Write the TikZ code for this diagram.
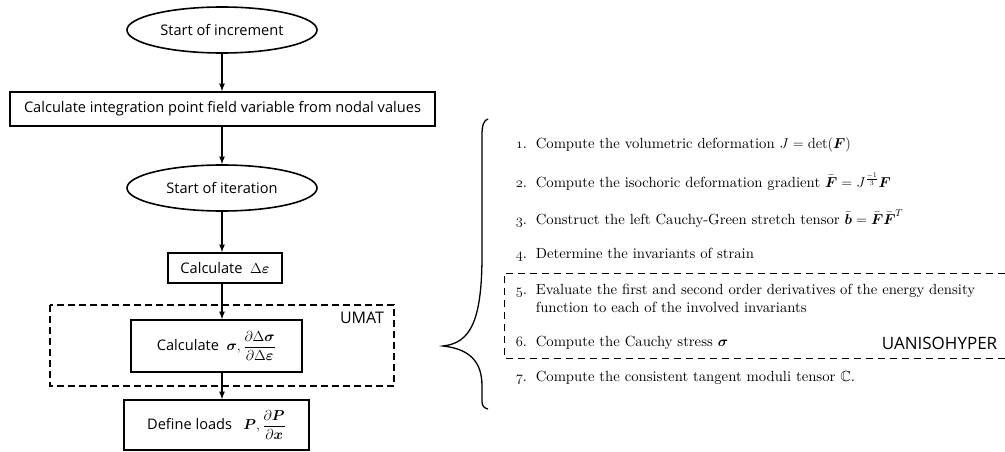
\documentclass[tikz,border=0pt]{standalone}
\usepackage{amsmath,amssymb}
\usepackage{fontspec}
\setsansfont{Open Sans}
\newfontfamily\listfont{lmroman10-regular.otf}
\usetikzlibrary{shapes.geometric}

% old style figures for the list
\newcommand{\onum}[1]{$\mathnormal{#1}$}

\begin{document}
\begin{tikzpicture}[x=1pt,y=-1pt,>=latex,line width=1.6pt,
  oval/.style={ellipse,draw,minimum width=190pt,minimum height=46pt,inner sep=0pt,
    font=\sffamily\fontsize{14.6}{17}\selectfont},
  stepbox/.style={draw,rectangle,inner sep=0pt,font=\sffamily\fontsize{14.6}{17}\selectfont},
  item/.style={anchor=base west,inner sep=0pt,font=\listfont\fontsize{14.7}{18}\selectfont},
  tag/.style={inner sep=0pt,font=\sffamily\fontsize{16}{19}\selectfont}]
  \useasboundingbox (0,0) rectangle (1005,452);
  % Flowchart
  \node[oval] (inc) at (222,30) {Start of increment};
  \node[stepbox,minimum width=425pt,minimum height=34pt] (field) at (222.5,109)
    {Calculate integration point field variable from nodal values};
  \node[oval] (iter) at (222,188) {Start of iteration};
  \node[stepbox,minimum width=114pt,minimum height=30pt] (deps) at (225,268)
    {Calculate\ \ $\Delta\boldsymbol{\varepsilon}$};
  \node[stepbox,minimum width=171pt,minimum height=52pt] (sig) at (216.5,346)
    {Calculate\ \ $\boldsymbol{\sigma},\dfrac{\partial\Delta\boldsymbol{\sigma}}{\partial\Delta\boldsymbol{\varepsilon}}$};
  \node[stepbox,minimum width=185pt,minimum height=50pt] (loads) at (216.5,425)
    {Define loads\ \ \ $\boldsymbol{P},\dfrac{\partial\boldsymbol{P}}{\partial\boldsymbol{x}}$};
  % UMAT
  \draw[dash pattern=on 7pt off 4pt] (50,305) rectangle (394,386);
  \node[tag] (umat) at (362,318) {UMAT};
  % Pfeile
  \draw[->] (inc) -- (inc |- field.north);
  \draw[->] (field.south -| inc) -- (inc |- iter.north);
  \draw[->] (iter) -- (iter |- deps.north);
  \draw[->] (iter |- deps.south) -- (iter |- sig.north);
  \draw[->] (iter |- sig.south) -- (iter |- loads.north);
  % Klammer
  \draw[line width=1.3pt] (488,119) .. controls (484,120) and (482,125) .. (482,135)
    -- (482,255) .. controls (482,322) and (470,343) .. (443,346)
    .. controls (470,349) and (482,362) .. (482,386) -- (482,401)
    .. controls (482,406) and (484,408) .. (488,409);
  % Schritte
  \node[item] (s1) at (515,148) {\makebox[20pt][l]{\onum{1}.}Compute the volumetric deformation $J=\det(\boldsymbol{F})$};
  \node[item] (s2) at (515,187) {\makebox[20pt][l]{\onum{2}.}Compute the isochoric deformation gradient $\smash{\bar{\boldsymbol{F}}=J^{\frac{-1}{3}}\boldsymbol{F}}$};
  \node[item] (s3) at (515,224) {\makebox[20pt][l]{\onum{3}.}Construct the left Cauchy-Green stretch tensor $\smash{\bar{\boldsymbol{b}}=\bar{\boldsymbol{F}}\bar{\boldsymbol{F}}^{T}}$};
  \node[item] (s4) at (515,258) {\makebox[20pt][l]{\onum{4}.}Determine the invariants of strain};
  \node[item] (s5) at (515,294) {\makebox[20pt][l]{\onum{5}.}Evaluate the first and second order derivatives of the energy density};
  \node[item] (s5b) at (535,312) {function to each of the involved invariants};
  \node[item] (s6) at (515,346) {\makebox[20pt][l]{\onum{6}.}Compute the Cauchy stress $\boldsymbol{\sigma}$};
  \node[item] (s7) at (515,381) {\makebox[20pt][l]{\onum{7}.}Compute the consistent tangent moduli tensor $\mathbb{C}$.};
  % UANISOHYPER
  \draw[line width=0.8pt,dash pattern=on 7pt off 5pt] (1005,273) -| (504,358) -- (1005,358);
  \node[tag,anchor=base east,font=\sffamily\fontsize{17}{20}\selectfont] (uaniso) at (998,349) {UANISOHYPER};
\end{tikzpicture}
\end{document}
